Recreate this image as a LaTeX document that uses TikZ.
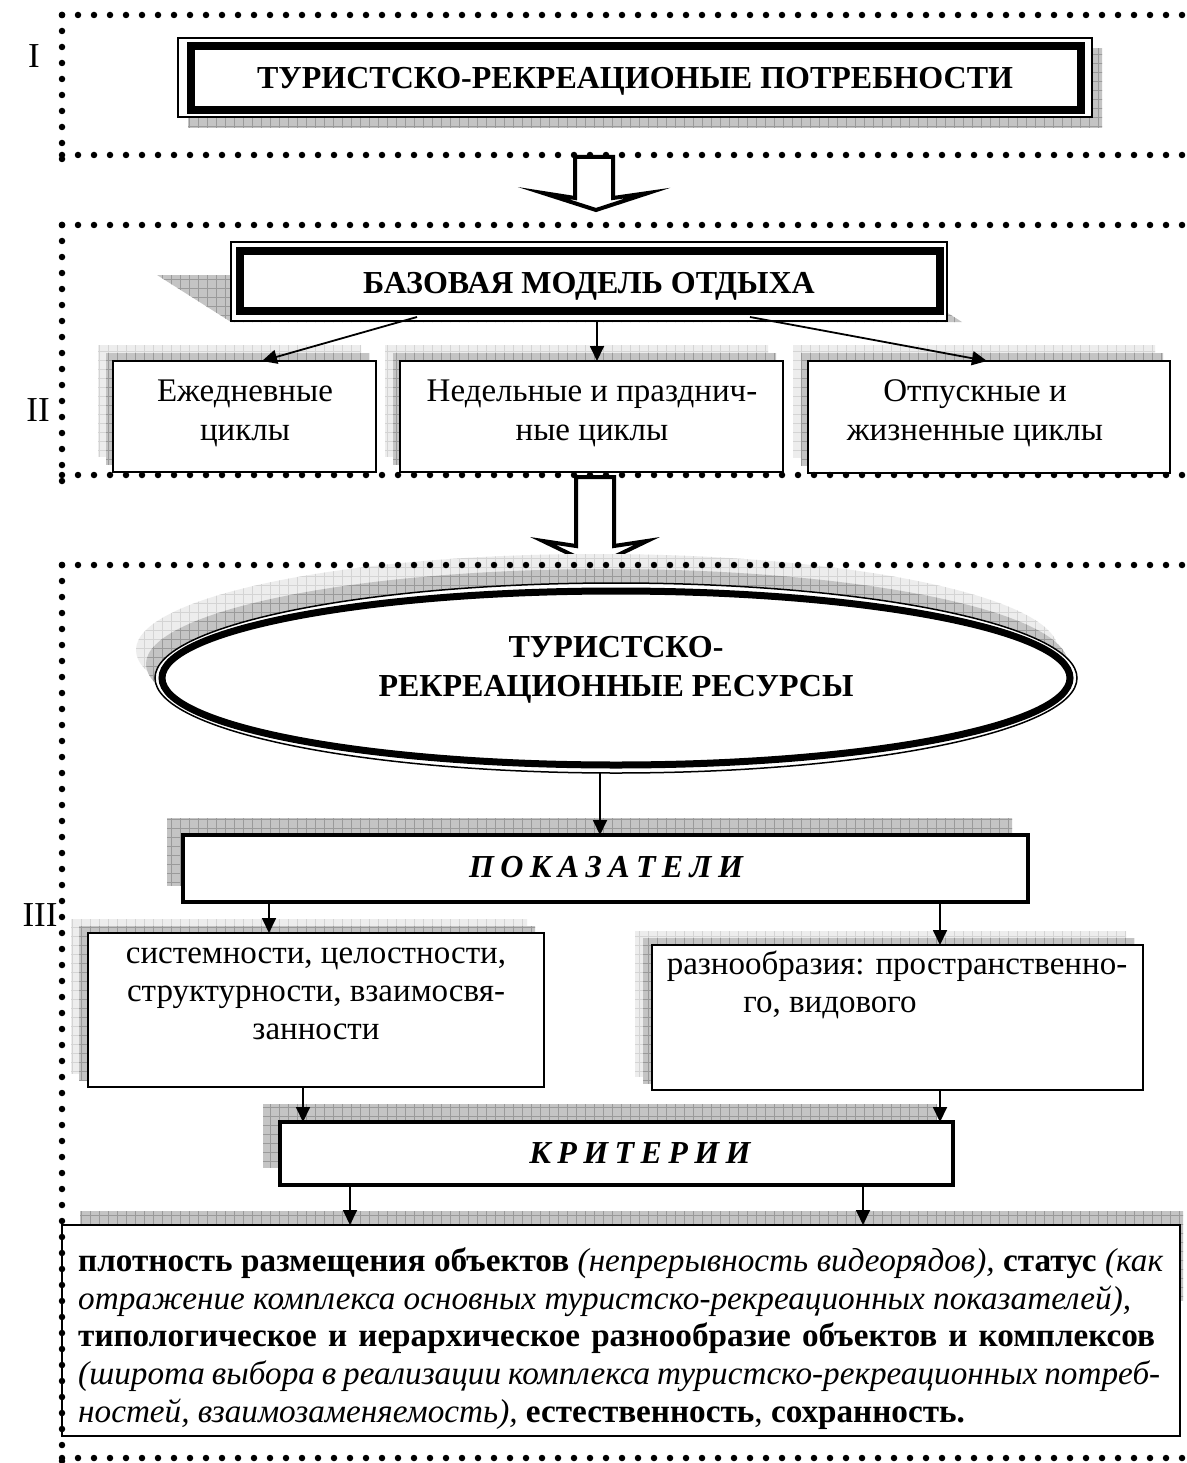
\documentclass[tikz,border=0pt]{standalone}
\usepackage{fontspec}
\setmainfont{Liberation Serif}[BoldFont={Liberation Serif Bold}, ItalicFont={Liberation Serif Italic}, BoldItalicFont={Liberation Serif Bold Italic}]
\usetikzlibrary{arrows.meta,calc,shapes.geometric}
\definecolor{shdark}{HTML}{C4C4C4}
\definecolor{shgrid}{HTML}{9A9A9A}
\definecolor{shlight}{HTML}{EDEDED}
\definecolor{shlgrid}{HTML}{D4D4D4}
\newcommand\shd[3]{\begin{scope}\clip #3;\fill[#1] (0,0) rectangle (1186,1463);\draw[#2,line width=0.7pt,step=9pt] (0,0) grid (1186,1463);\end{scope}}
\newcommand\spc{\hspace{0.2em}}
\begin{document}
\begin{tikzpicture}[x=1pt,y=-1pt,
  dotline/.style={line width=6.5pt, dash pattern=on 0pt off 16pt, line cap=round},
  conn/.style={line width=1.8pt, -{Triangle[length=15pt,width=14pt]}},
  rect/.style={rectangle, inner sep=0pt, outer sep=0pt, anchor=north west, fill=white, draw},
  thinbox/.style={rect, line width=2.2pt},
  thickbox/.style={rect, line width=4.5pt},
  hollow/.style={draw, line width=4pt, fill=white, miter limit=20},
  txt/.style={font=\fontsize{33}{39}\selectfont, inner sep=0pt, anchor=base},
  hd/.style={txt, font=\fontsize{32}{38}\selectfont\bfseries},
  hdi/.style={txt, font=\fontsize{32}{38}\selectfont\bfseries\itshape},
  ln/.style={font=\fontsize{33.2}{37}\selectfont, inner sep=0pt, anchor=base west}
]
\useasboundingbox (0,0) rectangle (1186,1463);
\fill[white] (0,0) rectangle (1186,1463);

% ---------- level I ----------
\shd{shdark}{shgrid}{(188,49) rectangle (1102,128)}
\node[rect, line width=1.5pt, minimum width=914pt, minimum height=79pt] (b1) at (178,38) {};
\draw[line width=7.5pt] (191,46) rectangle (1081,110);
\node[hd] (t1) at (635,89) {ТУРИСТСКО-РЕКРЕАЦИОНЫЕ ПОТРЕБНОСТИ};
\node[txt, font=\fontsize{35}{40}\selectfont] (l1) at (34,68) {I};

% hollow arrow 1
\draw[hollow] (575,157) -- (613,157) -- (613,198) -- (648,193) -- (596,210) -- (543,193) -- (575,198) -- cycle;

% ---------- level II ----------
\shd{shdark}{shgrid}{(157,275) -- (887,275) -- (962,322) -- (231,322) -- cycle}
\node[rect, line width=1.5pt, minimum width=716pt, minimum height=79pt] (b2) at (231,242) {};
\draw[line width=7.5pt] (240,251) rectangle (940,311);
\node[hd] (t2) at (589,293) {БАЗОВАЯ МОДЕЛЬ ОТДЫХА};

% three cycle boxes with shadows
\shd{shlight}{shlgrid}{(98,345) rectangle (361,456)}
\shd{shdark}{shgrid}{(106,353) rectangle (369,464)}
\node[thinbox, minimum width=263pt, minimum height=111pt] (cA) at (113,361) {};
\shd{shlight}{shlgrid}{(385,345) rectangle (768,456)}
\shd{shdark}{shgrid}{(393,353) rectangle (776,464)}
\node[thinbox, minimum width=383pt, minimum height=111pt] (cB) at (400,361) {};
\shd{shlight}{shlgrid}{(793,345) rectangle (1155,457)}
\shd{shdark}{shgrid}{(801,353) rectangle (1163,465)}
\node[thinbox, minimum width=362pt, minimum height=112pt] (cC) at (808,361) {};

\node[txt] (a1) at (245,401) {Ежедневные};
\node[txt] (a2) at (245,440) {циклы};
\node[txt] (bb1) at (592,401) {Недельные и празднич-};
\node[txt] (bb2) at (592,440) {ные циклы};
\node[txt] (c1) at (975,401) {Отпускные и};
\node[txt] (c2) at (975,440) {жизненные циклы};
\node[txt, font=\fontsize{35}{40}\selectfont] (l2) at (38,421) {II};

\draw[conn] ($(b2.south west)+(186,-4)$) -- ($(cA.north west)+(149,0)$);
\draw[conn] ($(b2.south west)+(366,0)$) -- ($(cB.north west)+(197,0)$);
\draw[conn] ($(b2.south west)+(519,-4)$) -- ($(cC.north west)+(179,0)$);

% hollow arrow 2
\draw[hollow] (576,477) -- (614,477) -- (614,546) -- (647,541) -- (595,566) -- (543,541) -- (576,546) -- cycle;

% ---------- level III ----------
\shd{shlight}{shlgrid}{(597,650) ellipse [x radius=461pt, y radius=96pt]}
\shd{shdark}{shgrid}{(607,664) ellipse [x radius=461pt, y radius=95pt]}
\node[ellipse, draw, fill=white, line width=1.5pt, inner sep=0pt, outer sep=0pt, minimum width=922pt, minimum height=190pt] (ell) at (616,678) {};
\draw[line width=7pt] (ell.center) ellipse [x radius=454pt, y radius=87pt];
\node[hd] (e1) at (616,657) {ТУРИСТСКО-};
\node[hd] (e2) at (616,696) {РЕКРЕАЦИОННЫЕ РЕСУРСЫ};

\shd{shdark}{shgrid}{(167,818) rectangle (1012,885)}
\node[thickbox, minimum width=845pt, minimum height=67pt] (pk) at (183,835) {};
\node[hdi] (pkt) at (606,877) {П\spc О\spc К\spc А\spc З\spc А\spc Т\spc Е\spc Л\spc И};
\draw[conn] (ell.south -| pkt.base) ++(-6,0) coordinate (es) -- (es |- pk.north);

\shd{shlight}{shlgrid}{(71,919) rectangle (527,1073)}
\shd{shdark}{shgrid}{(79,926) rectangle (535,1080)}
\node[thinbox, minimum width=456pt, minimum height=154pt] (dD) at (88,933) {};
\shd{shlight}{shlgrid}{(635,931) rectangle (1126,1076)}
\shd{shdark}{shgrid}{(643,938) rectangle (1134,1083)}
\node[thinbox, minimum width=491pt, minimum height=145pt] (eE) at (652,945) {};

\node[txt] (d1) at (316,963) {системности, целостности,};
\node[txt] (d2) at (316,1001) {структурности, взаимосвя-};
\node[txt] (d3) at (316,1039) {занности};
\node[txt] (f1) at (897,974) {разнообразия: пространственно-};
\node[txt] (f2) at (830,1012) {го, видового};
\node[txt, font=\fontsize{35}{40}\selectfont] (l3) at (40,926) {III};

\draw[conn] ($(pk.south west)+(86,0)$) -- ($(dD.north west)+(181,0)$);
\draw[conn] ($(pk.south west)+(757,0)$) -- ($(eE.north west)+(288,0)$);

\shd{shdark}{shgrid}{(263,1104) rectangle (937,1167)}
\node[thickbox, minimum width=673pt, minimum height=63pt] (kr) at (280,1122) {};
\node[hdi] (krt) at (640,1163) {К\spc Р\spc И\spc Т\spc Е\spc Р\spc И\spc И};

\draw[conn] ($(dD.south west)+(215,0)$) -- ($(kr.north west)+(23,0)$);
\draw[conn] ($(eE.south west)+(288,0)$) -- ($(kr.north west)+(660,0)$);

\shd{shdark}{shgrid}{(80,1211) rectangle (1183,1300)}
\node[thinbox, line width=2pt, minimum width=1118pt, minimum height=211pt] (bt) at (62,1225) {};
\draw[conn] ($(kr.south west)+(70,0)$) -- ($(bt.north west)+(288,0)$);
\draw[conn] ($(kr.south west)+(583,0)$) -- ($(bt.north west)+(801,0)$);

\node[ln] (g1) at (78,1271) {\makebox[1085pt][s]{\textbf{плотность размещения объектов} \textit{(непрерывность видеорядов),} \textbf{статус} \textit{(как}}};
\node[ln] (g2) at (78,1309) {\textit{отражение комплекса основных туристско-рекреационных показателей),}};
\node[ln] (g3) at (78,1346) {\makebox[1077pt][s]{\textbf{типологическое и иерархическое разнообразие объектов и комплексов}}};
\node[ln] (g4) at (78,1384) {\makebox[1082pt][s]{\textit{(широта выбора в реализации комплекса туристско-рекреационных потреб-}}};
\node[ln] (g5) at (78,1422) {\textit{ностей, взаимозаменяемость),} \textbf{естественность}, \textbf{сохранность.}};

% ---------- dotted frames ----------
\draw[dotline] (62,15) -- (1192,15);
\draw[dotline] (62,155) -- (1192,155);
\draw[dotline] (62,15) -- (62,172);
\draw[dotline] (62,225) -- (1192,225);
\draw[dotline] (62,475) -- (1192,475);
\draw[dotline] (62,225) -- (62,492);
\draw[dotline] (62,565) -- (1192,565);
\draw[dotline] (62,1458) -- (1192,1458);
\draw[dotline] (62,565) -- (62,1466);
\end{tikzpicture}
\end{document}
